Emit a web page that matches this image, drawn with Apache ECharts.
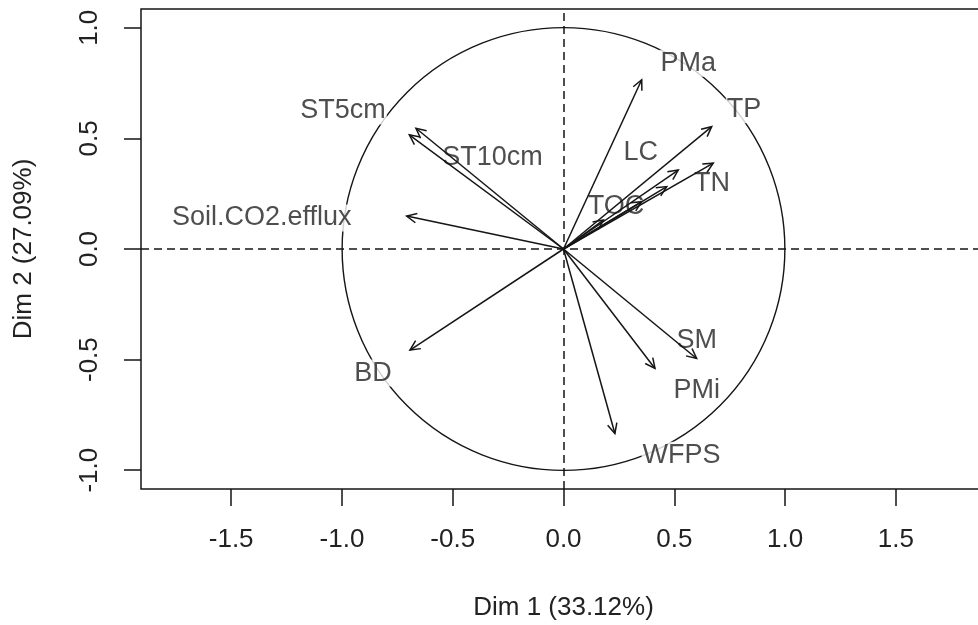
<!DOCTYPE html>
<html>
<head>
<meta charset="utf-8">
<script src="https://cdn.jsdelivr.net/npm/echarts@6/dist/echarts.min.js"></script>
<style>
  html, body { margin: 0; padding: 0; background: #fff; }
  #chart { width: 978px; height: 625px; }
</style>
</head>
<body>
<div id="chart"></div>
<script>
// Variable loadings on the first two dimensions (correlation circle)
const varNames = ['PMa', 'TP', 'TN', 'LC', '', 'TOC', '', 'ST5cm', 'ST10cm', 'Soil.CO2.efflux', 'BD', 'SM', 'PMi', 'WFPS'];
const dim1 = [0.353, 0.669, 0.676, 0.518, 0.466, 0.353, 0.180, -0.696, -0.666, -0.708, -0.693, 0.601, 0.413, 0.232];
const dim2 = [0.765, 0.553, 0.388, 0.357, 0.282, 0.214, 0.131, 0.516, 0.546, 0.149, -0.457, -0.495, -0.540, -0.834];

// Where each variable name is written, in the same units as the loadings
const labelDim1 = [0.563, 0.815, 0.670, 0.349, null, 0.237, null, -0.995, -0.320, -1.362, -0.860, 0.601, 0.601, 0.533];
const labelDim2 = [0.840, 0.629, 0.294, 0.434, null, 0.190, null, 0.624, 0.414, 0.140, -0.561, -0.412, -0.638, -0.932];

const xTicks = [-1.5, -1.0, -0.5, 0.0, 0.5, 1.0, 1.5];
const yTicks = [-1.0, -0.5, 0.0, 0.5, 1.0];
const xTitle = 'Dim 1 (33.12%)';
const yTitle = 'Dim 2 (27.09%)';

const FONT = "'Liberation Sans', Arial, sans-serif";
const INK = '#151515';
const TEXT = '#222';

const arrowData = dim1.map((x, i) => [x, dim2[i]]);
const labelData = [];
varNames.forEach((n, i) => {
  if (n && labelDim1[i] != null) labelData.push({ name: n, value: [labelDim1[i], labelDim2[i]] });
});

const chart = echarts.init(document.getElementById('chart'), null, { renderer: 'canvas' });

chart.setOption({
  animation: false,
  backgroundColor: '#fff',
  grid: {
    left: 141, top: 9, width: 845, height: 480,
    outerBoundsMode: 'none', containLabel: false,
    show: true, borderColor: INK, borderWidth: 1.5, backgroundColor: 'transparent'
  },
  xAxis: {
    type: 'value', min: -1.907, max: 1.907,
    name: xTitle, nameLocation: 'middle', nameGap: 106,
    nameTextStyle: { fontFamily: FONT, fontSize: 26, color: TEXT },
    axisLine: { show: false, onZero: false },
    splitLine: { show: false },
    axisTick: { show: true, inside: false, length: 17, customValues: xTicks,
      lineStyle: { color: INK, width: 1.5 } },
    axisLabel: { show: true, customValues: xTicks, margin: 38,
      fontFamily: FONT, fontSize: 26, color: TEXT,
      formatter: v => v.toFixed(1) }
  },
  yAxis: {
    type: 'value', min: -1.085, max: 1.085,
    name: yTitle, nameLocation: 'middle', nameGap: 104, nameRotate: 90,
    nameTextStyle: { fontFamily: FONT, fontSize: 26, color: TEXT },
    axisLine: { show: false, onZero: false },
    splitLine: { show: false },
    axisTick: { show: true, inside: false, length: 17, customValues: yTicks,
      lineStyle: { color: INK, width: 1.5 } },
    axisLabel: { show: true, customValues: yTicks, margin: 38, rotate: 90,
      fontFamily: FONT, fontSize: 26, color: TEXT,
      formatter: v => v.toFixed(1) }
  },
  series: [
    {
      // unit correlation circle plus the dashed reference axes
      type: 'custom',
      z: 1,
      silent: true,
      clip: true,
      data: [[0, 0, 1]],
      renderItem: (params, api) => {
        const c = api.coord([api.value(0), api.value(1)]);
        const s = api.size([api.value(2), api.value(2)]);
        const r = (s[0] + s[1]) / 2;
        return {
          type: 'circle',
          shape: { cx: c[0], cy: c[1], r: r },
          style: { fill: null, stroke: INK, lineWidth: 1.4 }
        };
      },
      markLine: {
        silent: true,
        symbol: ['none', 'none'],
        label: { show: false },
        lineStyle: { color: INK, type: [8, 5], width: 1.5 },
        data: [{ xAxis: 0 }, { yAxis: 0 }]
      }
    },
    {
      // variable names
      type: 'scatter',
      z: 2,
      silent: true,
      symbolSize: 1,
      itemStyle: { color: 'rgba(0,0,0,0)' },
      data: labelData,
      label: {
        show: true, position: 'inside',
        formatter: p => p.name,
        fontFamily: FONT, fontSize: 27, color: TEXT,
        backgroundColor: '#fff', padding: [0, 1]
      },
      labelLayout: { hideOverlap: false }
    },
    {
      // loading arrows from the origin
      type: 'custom',
      z: 3,
      silent: true,
      clip: false,
      data: arrowData,
      renderItem: (params, api) => {
        const o = api.coord([0, 0]);
        const p = api.coord([api.value(0), api.value(1)]);
        const ang = Math.atan2(p[1] - o[1], p[0] - o[0]);
        const L = 11, a = Math.PI / 7;
        const h1 = [p[0] - L * Math.cos(ang - a), p[1] - L * Math.sin(ang - a)];
        const h2 = [p[0] - L * Math.cos(ang + a), p[1] - L * Math.sin(ang + a)];
        return {
          type: 'group',
          children: [
            { type: 'line', shape: { x1: o[0], y1: o[1], x2: p[0], y2: p[1] },
              style: { stroke: INK, lineWidth: 1.5 } },
            { type: 'polyline', shape: { points: [h1, p, h2] },
              style: { stroke: INK, lineWidth: 1.5, fill: null } }
          ]
        };
      }
    }
  ]
});
</script>
</body>
</html>
